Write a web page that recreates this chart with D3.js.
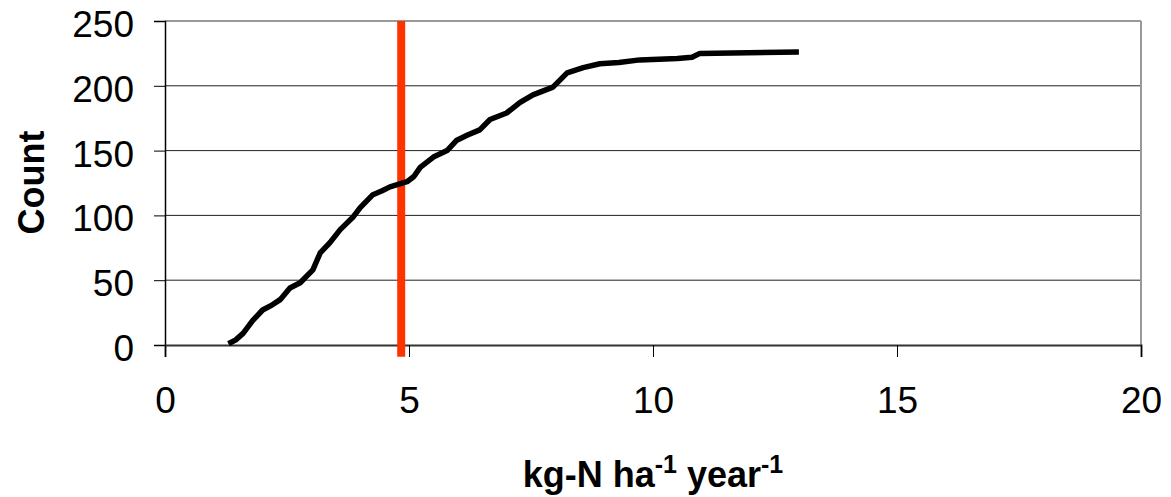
<!DOCTYPE html>
<html><head><meta charset="utf-8">
<script src="https://cdn.jsdelivr.net/npm/d3@7"></script>
<style>
html,body{margin:0;padding:0;background:#fff;}
svg{display:block;font-family:"Liberation Sans",Arial,sans-serif;}
</style></head>
<body><svg id="c" width="1171" height="497"></svg>
<script>
// Data
const depositionValues = [1.3,1.45,1.6,1.8,2.0,2.2,2.36,2.56,2.77,3.03,3.18,3.38,3.59,3.86,4.0,4.26,4.45,4.61,4.96,5.1,5.23,5.5,5.78,5.98,6.2,6.45,6.66,7.0,7.27,7.54,7.95,8.24,8.57,8.91,9.3,9.73,10.5,10.8,10.96,12.99];
const cumulativeCounts  = [1,4,9,19,27,31,35,44,48,58,71,79,89,99,106,116,119,122,126,130,137,145,150,158,162,166,174,179,187,193,199,210,214,217,218,220,221,222,225,226];
const thresholdValue = 4.84;
const xTicks = [0,5,10,15,20];
const yTicks = [0,50,100,150,200,250];
const xTitle = ["kg-N ha", "-1", " year", "-1"];
const yTitle = "Count";

const svg = d3.select("#c");
const L = 165, R = 1141, T = 21, B = 345;
const x = d3.scaleLinear().domain([0,20]).range([L,R]);
const y = d3.scaleLinear().domain([0,250]).range([B,T]);

// gridlines
svg.append("g").selectAll("line").data(yTicks.filter(d=>d>0)).join("line")
  .attr("x1",L).attr("x2",R).attr("y1",d=>y(d)).attr("y2",d=>y(d))
  .attr("stroke",d=>d===250?"#999":"#222").attr("stroke-width",d=>d===250?2:1);
// right border
svg.append("line").attr("x1",R).attr("x2",R).attr("y1",T).attr("y2",B).attr("stroke","#999").attr("stroke-width",2);

// axes
const yAxis = svg.append("g").attr("transform",`translate(${L},0)`)
  .call(d3.axisLeft(y).tickValues(yTicks).tickSize(11).tickPadding(20).tickFormat(d3.format("d")));
yAxis.select(".domain").attr("stroke","#000").attr("stroke-width",1.5);
yAxis.selectAll("text").attr("font-size",37).attr("fill","#000").attr("dy","0.42em")
  .attr("font-family","Liberation Sans, Arial, sans-serif");
const xAxis = svg.append("g").attr("transform",`translate(0,${B})`)
  .call(d3.axisBottom(x).tickValues(xTicks).tickSize(12).tickPadding(30).tickFormat(d3.format("d")));
xAxis.select(".domain").attr("stroke","#333").attr("stroke-width",2);
xAxis.selectAll("text").attr("font-size",37).attr("fill","#000")
  .attr("font-family","Liberation Sans, Arial, sans-serif");

// threshold line
svg.append("line").attr("x1",x(thresholdValue)).attr("x2",x(thresholdValue))
  .attr("y1",y(250)).attr("y2",y(-9)).attr("stroke","#FF3300").attr("stroke-width",8);

// curve
const pts = depositionValues.map((v,i)=>[v,cumulativeCounts[i]]);
svg.append("path").datum(pts)
  .attr("d",d3.line().x(d=>x(d[0])).y(d=>y(d[1])))
  .attr("fill","none").attr("stroke","#000").attr("stroke-width",5.5).attr("stroke-linejoin","round");

// titles
const xt = svg.append("text").attr("x",(518+788)/2).attr("y",487).attr("text-anchor","middle")
  .attr("font-size",36).attr("font-weight","bold").attr("fill","#000");
xt.append("tspan").text(xTitle[0]);
xt.append("tspan").text(xTitle[1]).attr("font-size",25).attr("dy",-14);
xt.append("tspan").text(xTitle[2]).attr("dy",14);
xt.append("tspan").text(xTitle[3]).attr("font-size",25).attr("dy",-14);

svg.append("text").attr("transform",`translate(44,${(127+238)/2}) rotate(-90)`)
  .attr("text-anchor","middle").attr("font-size",36).attr("font-weight","bold").attr("fill","#000").text(yTitle);
</script></body></html>
